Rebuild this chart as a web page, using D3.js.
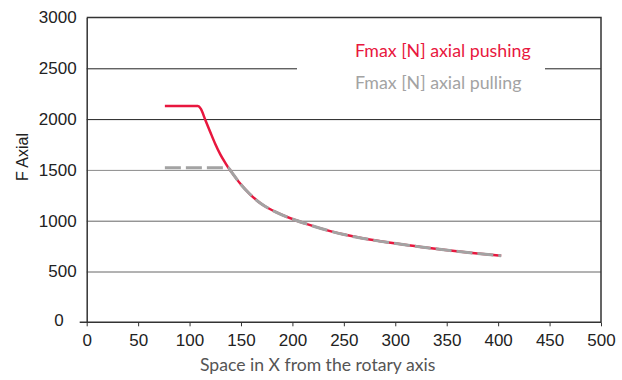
<!DOCTYPE html>
<html>
<head>
<meta charset="utf-8">
<script src="https://cdn.jsdelivr.net/npm/d3@7"></script>
<style>
  html, body { margin: 0; padding: 0; background: #fff; }
  svg { display: block; }
</style>
</head>
<body>
<svg id="chart" width="622" height="380"></svg>
<script>
// Axial force capacity vs. distance from the rotary axis
const xTicks = [0, 50, 100, 150, 200, 250, 300, 350, 400, 450, 500];
const yTicks = [0, 500, 1000, 1500, 2000, 2500, 3000];

// Pushing: flat plateau, then falls off with distance
const pushX = [76, 108, 111, 115, 120, 125, 130, 135, 137.6, 140, 149, 158.8, 170, 183, 202.5, 212, 249, 275, 299, 325, 349, 375, 403];
const pushF = [2128, 2128, 2100, 2000, 1876, 1755, 1650, 1565, 1524, 1490, 1368, 1260, 1164, 1089, 1007, 974, 866, 815, 777, 742, 711, 682, 655];

// Pulling: lower plateau, then follows the same fall-off
const pullX = [76, 137.6, 140, 149, 158.8, 170, 183, 202.5, 212, 249, 275, 299, 325, 349, 375, 403];
const pullF = [1522, 1522, 1490, 1368, 1260, 1164, 1089, 1007, 974, 866, 815, 777, 742, 711, 682, 655];

const legendLabels = ["Fmax [N] axial pushing", "Fmax [N] axial pulling"];
const xTitle = "Space in X from the rotary axis";
const yTitle = "F Axial";

const W = 622, H = 380;
const margin = { top: 17.5, right: 21, bottom: 57.7, left: 86.7 };
const innerW = W - margin.left - margin.right;
const innerH = H - margin.top - margin.bottom;

const RED = "#e8173e";
const GREY = "#a3a3a3";

const svg = d3.select("#chart");
const g = svg.append("g").attr("transform", `translate(${margin.left},${margin.top})`);

const x = d3.scaleLinear().domain([0, 500]).range([0, innerW]);
const y = d3.scaleLinear().domain([0, 3000]).range([innerH, 0]);

// Horizontal grid lines
g.append("g")
  .selectAll("line")
  .data(yTicks.filter(t => t > 0 && t < 3000))
  .join("line")
  .attr("x1", 0).attr("x2", innerW)
  .attr("y1", d => y(d) + 0.5).attr("y2", d => y(d) + 0.5)
  .attr("stroke", d => d >= 2000 ? "#222" : (d === 1500 ? "#8a8a8a" : "#666"))
  .attr("stroke-width", 1);

// Frame: top and right edges
g.append("path")
  .attr("d", `M0,${y(3000)}H${innerW}V${innerH}`)
  .attr("fill", "none")
  .attr("stroke", "#333")
  .attr("stroke-width", 1.5);

// Y axis labels (no tick marks)
const yAxis = g.append("g")
  .call(d3.axisLeft(y).tickValues(yTicks).tickSize(0).tickPadding(10).tickFormat(d3.format("d")));
yAxis.select(".domain").attr("stroke", "#333").attr("stroke-width", 1.5);
yAxis.selectAll("text")
  .attr("font-family", "'Liberation Sans', Arial, sans-serif")
  .attr("font-size", 17)
  .attr("fill", "#222");
// the zero label sits clear of the extended baseline
yAxis.selectAll(".tick").filter(d => d === 0).select("text")
  .attr("x", -23).attr("dy", "0.2em");

// X axis with short downward ticks
const xAxis = g.append("g")
  .attr("transform", `translate(0,${innerH})`)
  .call(d3.axisBottom(x).tickValues(xTicks).tickSize(4).tickPadding(8).tickFormat(d3.format("d")));
xAxis.select(".domain").attr("d", `M-7,0H${innerW}`).attr("stroke", "#333").attr("stroke-width", 1.5);
xAxis.selectAll(".tick line").attr("stroke", "#333").attr("stroke-width", 1);
xAxis.selectAll("text")
  .attr("font-family", "'Liberation Sans', Arial, sans-serif")
  .attr("font-size", 17)
  .attr("fill", "#222");

// Legend box interrupts the grid
const legend = svg.append("g");
legend.append("rect")
  .attr("x", 297).attr("y", 30).attr("width", 248).attr("height", 70)
  .attr("fill", "#fff");
legend.selectAll("text")
  .data(legendLabels)
  .join("text")
  .attr("x", 355)
  .attr("y", (d, i) => 57 + i * 32)
  .attr("font-family", "Lato, 'Open Sans', sans-serif")
  .attr("font-size", 17.8)
  .attr("fill", (d, i) => i === 0 ? RED : GREY)
  .text(d => d);

// Curves
const line = d3.line()
  .x(d => x(d[0]))
  .y(d => y(d[1]))
  .curve(d3.curveMonotoneX);

const pushData = pushX.map((v, i) => [v, pushF[i]]);
const pullData = pullX.map((v, i) => [v, pullF[i]]);

g.append("path")
  .datum(pushData)
  .attr("d", line)
  .attr("fill", "none")
  .attr("stroke", RED)
  .attr("stroke-width", 2.5);

g.append("path")
  .datum(pullData)
  .attr("d", line)
  .attr("fill", "none")
  .attr("stroke", GREY)
  .attr("stroke-width", 3)
  .attr("stroke-dasharray", "16,5");

// Axis titles
svg.append("text")
  .attr("x", 200).attr("y", 371)
  .attr("font-family", "Lato, 'Open Sans', sans-serif")
  .attr("font-size", 17.6)
  .attr("fill", "#555")
  .text(xTitle);

svg.append("text")
  .attr("transform", "translate(28,157) rotate(-90)")
  .attr("text-anchor", "middle")
  .attr("font-family", "'Liberation Sans', Arial, sans-serif")
  .attr("font-size", 16)
  .attr("fill", "#222")
  .text(yTitle);
</script>
</body>
</html>
